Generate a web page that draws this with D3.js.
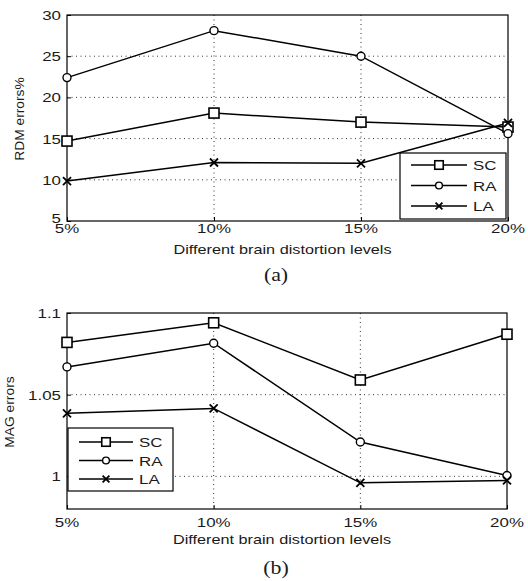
<!DOCTYPE html>
<html>
<head>
<meta charset="utf-8">
<script src="https://cdn.jsdelivr.net/npm/d3@7"></script>
<style>
html,body{margin:0;padding:0;background:#fff;}
svg{display:block;}
</style>
</head>
<body>
<svg id="chart" width="528" height="581"></svg>
<script>
// ---- data ----
const levels = ["5%", "10%", "15%", "20%"];
const seriesNames = ["SC", "RA", "LA"];
const rdmSC = [14.7, 18.1, 17.0, 16.4];
const rdmRA = [22.4, 28.1, 25.0, 15.6];
const rdmLA = [9.85, 12.1, 12.0, 16.9];
const magSC = [1.082, 1.094, 1.059, 1.087];
const magRA = [1.067, 1.0815, 1.021, 1.0005];
const magLA = [1.0386, 1.0416, 0.996, 0.9975];
const rdmTicks = [5, 10, 15, 20, 25, 30];
const magTicks = [1, 1.05, 1.1];
const magTickLabels = ["1", "1.05", "1.1"];
const xTitle = "Different brain distortion levels";

const svg = d3.select("#chart");
const FONT = "'Liberation Sans', Arial, sans-serif";
const markers = {SC: "square", RA: "circle", LA: "cross"};

function stext(g, x, y, str, size, anchor, sx, rot, family) {
  return g.append("text")
    .attr("transform", `translate(${x},${y}) rotate(${rot || 0}) scale(${sx},1)`)
    .attr("text-anchor", anchor)
    .attr("font-family", family || FONT)
    .attr("font-size", size)
    .attr("fill", "#1a1a1a")
    .text(str);
}

function drawMarker(g, type, x, y, k) {
  k = k || 1;
  if (type === "square") {
    const s = 5 * k;
    g.append("rect").attr("x", x - s).attr("y", y - s).attr("width", 2 * s).attr("height", 2 * s)
      .attr("fill", "#fff").attr("stroke", "#000").attr("stroke-width", 1.6);
  } else if (type === "circle") {
    g.append("circle").attr("cx", x).attr("cy", y).attr("r", 4 * k)
      .attr("fill", "#fff").attr("stroke", "#000").attr("stroke-width", 1.4);
  } else {
    const s = 4 * k;
    g.append("path").attr("d", `M${x-s},${y-s}L${x+s},${y+s}M${x-s},${y+s}L${x+s},${y-s}`)
      .attr("stroke", "#000").attr("stroke-width", 1.8).attr("fill", "none");
  }
}

function panel(opt) {
  const g = svg.append("g");
  const x = d3.scalePoint().domain(levels).range([opt.left, opt.right]);
  const y = d3.scaleLinear().domain(opt.domain).range([opt.bottom, opt.top]);

  // grid
  levels.slice(1, -1).forEach(l => {
    g.append("line").attr("x1", x(l)).attr("x2", x(l)).attr("y1", opt.top).attr("y2", opt.bottom)
      .attr("stroke", "#333").attr("stroke-width", 1).attr("stroke-dasharray", "1,3.5");
  });
  opt.ticks.forEach(v => {
    if (y(v) > opt.top + 1 && y(v) < opt.bottom - 1)
      g.append("line").attr("x1", opt.left).attr("x2", opt.right).attr("y1", y(v)).attr("y2", y(v))
        .attr("stroke", "#333").attr("stroke-width", 1).attr("stroke-dasharray", "1,3.5");
  });

  // axes via d3
  const yAxis = d3.axisLeft(y).tickValues(opt.ticks).tickSize(-4).tickFormat((d, i) => opt.tickLabels[i]);
  const ya = g.append("g").attr("transform", `translate(${opt.left},0)`).call(yAxis);
  ya.select(".domain").remove();
  ya.selectAll(".tick line").attr("stroke", "#000");
  ya.selectAll(".tick text").remove();
  opt.ticks.forEach((v, i) => {
    stext(g, opt.left - 6, y(v) + 5 + (opt.yLabelShift ? opt.yLabelShift(i) : 0), opt.tickLabels[i], 13, "end", 1.3);
  });
  const xAxis = d3.axisBottom(x).tickSize(-4);
  const xa = g.append("g").attr("transform", `translate(0,${opt.bottom})`).call(xAxis);
  xa.select(".domain").remove();
  xa.selectAll(".tick text").remove();
  xa.selectAll(".tick line").attr("stroke", "#000");
  levels.forEach(l => stext(g, x(l), opt.xTickY, l, 13, "middle", 1.3));

  // box
  g.append("rect").attr("x", opt.left).attr("y", opt.top).attr("width", opt.right - opt.left)
    .attr("height", opt.bottom - opt.top).attr("fill", "none").attr("stroke", "#000").attr("stroke-width", 1.2);

  // series
  const line = d3.line().x((d, i) => x(levels[i])).y(d => y(d));
  opt.series.forEach(vals => {
    g.append("path").attr("d", line(vals)).attr("fill", "none").attr("stroke", "#000").attr("stroke-width", 1.5);
  });
  opt.series.forEach((vals, si) => {
    vals.forEach((v, i) => drawMarker(g, markers[seriesNames[si]], x(levels[i]), y(v)));
  });

  // labels
  stext(g, (opt.left + opt.right) / 2 - 5, opt.xTitleY, xTitle, 12.5, "middle", 1.3);
  stext(g, opt.yTitleX, opt.yTitleCY, opt.yTitle, 12, "middle", 1.15, -90);
  stext(g, 276, opt.capY, opt.caption, 19, "middle", 1.15, 0, "'Liberation Serif', 'Times New Roman', serif");

  // legend
  const L = opt.legend;
  g.append("rect").attr("x", L.x).attr("y", L.y).attr("width", L.w).attr("height", L.h)
    .attr("fill", "#fff").attr("stroke", "#000").attr("stroke-width", 1.2);
  seriesNames.forEach((n, i) => {
    const ry = L.y + L.r0 + i * L.dr;
    g.append("line").attr("x1", L.x + L.l0).attr("x2", L.x + L.l1).attr("y1", ry).attr("y2", ry)
      .attr("stroke", "#000").attr("stroke-width", 1.5);
    drawMarker(g, markers[n], L.x + (L.l0 + L.l1) / 2, ry, 0.85);
    stext(g, L.x + L.l1 + 6, ry + 5, n, 13, "start", 1.3);
  });
}

panel({
  left: 67, right: 508, top: 15, bottom: 221,
  domain: [5, 30], ticks: rdmTicks, tickLabels: rdmTicks.map(String),
  series: [rdmSC, rdmRA, rdmLA],
  xTickY: 233, xTitleY: 254, yTitle: "RDM errors%", yTitleX: 24, yTitleCY: 119,
  yLabelShift: i => (i === 0 ? -3 : 0),
  caption: "(a)", capY: 281,
  legend: {x: 400, y: 153, w: 106, h: 66, r0: 12, dr: 20.5, l0: 11, l1: 67}
});

panel({
  left: 67, right: 507, top: 313, bottom: 509,
  domain: [0.98, 1.1], ticks: magTicks, tickLabels: magTickLabels,
  series: [magSC, magRA, magLA],
  xTickY: 527, xTitleY: 544, yTitle: "MAG errors", yTitleX: 14, yTitleCY: 412,
  caption: "(b)", capY: 574,
  legend: {x: 68, y: 428, w: 105, h: 63, r0: 14, dr: 18.5, l0: 11, l1: 65}
});
</script>
</body>
</html>
